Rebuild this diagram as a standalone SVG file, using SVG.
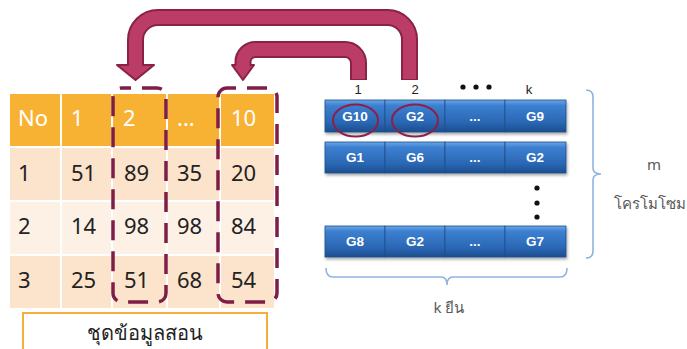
<svg xmlns="http://www.w3.org/2000/svg" width="687" height="349" viewBox="0 0 687 349">
<defs>
<linearGradient id="blue" x1="0" y1="0" x2="0" y2="1">
<stop offset="0" stop-color="#6AA6E6"/>
<stop offset="0.18" stop-color="#3C7FD0"/>
<stop offset="0.7" stop-color="#2A67B4"/>
<stop offset="1" stop-color="#1C4E8E"/>
</linearGradient>
<filter id="sh" x="-10%" y="-20%" width="120%" height="160%">
<feDropShadow dx="1" dy="2" stdDeviation="1.5" flood-color="#000" flood-opacity="0.35"/>
</filter>
</defs>
<style>
.hd{fill:#F7B234}
.ra{fill:#FCE3CB}
.rb{fill:#FDF1E6}
.sep{stroke:#FFFFFF;stroke-width:2}
.ht{font-family:"Noto Sans",sans-serif;font-size:22px;fill:#FFFFFF}
.bt{font-family:"Noto Sans",sans-serif;font-size:22px;fill:#222222}
.dash{fill:none;stroke:#7E1E46;stroke-width:3.5;stroke-dasharray:20 11}
.cell{fill:url(#blue);stroke:#1E4F8C;stroke-width:0.8}
.gt{font-family:"Liberation Sans",Arial,sans-serif;font-size:13.5px;font-weight:bold;fill:#FFFFFF;text-anchor:middle}
.lab{font-family:"Liberation Sans",Arial,sans-serif;font-size:13px;fill:#222222;text-anchor:middle}
.ring{fill:none;stroke:#8B2049;stroke-width:2}
.brace{fill:none;stroke:#8DB3E2;stroke-width:1.6}
.gray{font-family:"Noto Sans","DejaVu Sans",sans-serif;font-size:15px;fill:#595959;text-anchor:middle}
.ao{fill:none;stroke:#8A2248;stroke-width:17}
.ai{fill:none;stroke:#BA3C67;stroke-width:13}
.ah{fill:#BA3C67;stroke:#8A2248;stroke-width:2;stroke-linejoin:round}
</style>

<g id="table">
<rect class="hd" x="10" y="94" width="264" height="52"/>
<rect class="ra" x="10" y="148" width="264" height="52"/>
<rect class="rb" x="10" y="202" width="264" height="52"/>
<rect class="ra" x="10" y="256" width="264" height="52"/>
<line class="sep" x1="61" y1="94" x2="61" y2="308"/>
<line class="sep" x1="112" y1="94" x2="112" y2="308"/>
<line class="sep" x1="167" y1="94" x2="167" y2="308"/>
<line class="sep" x1="220" y1="94" x2="220" y2="308"/>
<text class="ht" x="18" y="126">No</text>
<text class="ht" x="71" y="126">1</text>
<text class="ht" x="123" y="126">2</text>
<text class="ht" x="177" y="126">...</text>
<text class="ht" x="231" y="126">10</text>
<text class="bt" x="18" y="181">1</text>
<text class="bt" x="71" y="181">51</text>
<text class="bt" x="124" y="181">89</text>
<text class="bt" x="177" y="181">35</text>
<text class="bt" x="231" y="181">20</text>
<text class="bt" x="18" y="234">2</text>
<text class="bt" x="71" y="234">14</text>
<text class="bt" x="124" y="234">98</text>
<text class="bt" x="177" y="234">98</text>
<text class="bt" x="231" y="234">84</text>
<text class="bt" x="18" y="288">3</text>
<text class="bt" x="71" y="288">25</text>
<text class="bt" x="124" y="288">51</text>
<text class="bt" x="177" y="288">68</text>
<text class="bt" x="231" y="288">54</text>
</g>

<g id="selection-col2">
<rect class="dash" x="113" y="88" width="53" height="214" rx="9" stroke-dashoffset="-20"/>
</g>
<g id="selection-col10">
<rect class="dash" x="218" y="88" width="59" height="214" rx="9" stroke-dashoffset="-20"/>
</g>

<g id="label-train">
<rect x="23" y="313" width="244" height="40" fill="#FFFFFF" stroke="#F5AF3B" stroke-width="2"/>
<text x="145" y="340" font-family="Noto Sans,'DejaVu Sans',sans-serif" font-size="20" fill="#222222" text-anchor="middle">ชุดข้อมูลสอน</text>
</g>

<g id="chromosome-1" filter="url(#sh)">
<rect class="cell" x="325" y="100" width="60" height="32"/>
<rect class="cell" x="385" y="100" width="60" height="32"/>
<rect class="cell" x="445" y="100" width="60" height="32"/>
<rect class="cell" x="505" y="100" width="61" height="32"/>
</g>
<g id="chromosome-1-text">
<text class="gt" x="355" y="121">G10</text>
<text class="gt" x="415" y="121">G2</text>
<text class="gt" x="475" y="121">...</text>
<text class="gt" x="535" y="121">G9</text>
<ellipse class="ring" cx="355.5" cy="120.5" rx="22.5" ry="16"/>
<ellipse class="ring" cx="415" cy="120.5" rx="23" ry="16"/>
</g>

<g id="chromosome-2" filter="url(#sh)">
<rect class="cell" x="325" y="142" width="60" height="31"/>
<rect class="cell" x="385" y="142" width="60" height="31"/>
<rect class="cell" x="445" y="142" width="60" height="31"/>
<rect class="cell" x="505" y="142" width="61" height="31"/>
</g>
<g id="chromosome-2-text">
<text class="gt" x="355" y="162">G1</text>
<text class="gt" x="415" y="162">G6</text>
<text class="gt" x="475" y="162">...</text>
<text class="gt" x="535" y="162">G2</text>
</g>

<g id="chromosome-m" filter="url(#sh)">
<rect class="cell" x="325" y="226" width="60" height="31"/>
<rect class="cell" x="385" y="226" width="60" height="31"/>
<rect class="cell" x="445" y="226" width="60" height="31"/>
<rect class="cell" x="505" y="226" width="61" height="31"/>
</g>
<g id="chromosome-m-text">
<text class="gt" x="355" y="246">G8</text>
<text class="gt" x="415" y="246">G2</text>
<text class="gt" x="475" y="246">...</text>
<text class="gt" x="535" y="246">G7</text>
</g>

<g id="gene-labels">
<text class="lab" x="358" y="94">1</text>
<text class="lab" x="415" y="94">2</text>
<circle cx="463" cy="87" r="2.6" fill="#111"/>
<circle cx="476" cy="87" r="2.6" fill="#111"/>
<circle cx="489" cy="87" r="2.6" fill="#111"/>
<text class="lab" x="529" y="94">k</text>
<circle cx="537" cy="188" r="2.6" fill="#111"/>
<circle cx="537" cy="203" r="2.6" fill="#111"/>
<circle cx="537" cy="217" r="2.6" fill="#111"/>
</g>

<g id="brace-m">
<path class="brace" d="M586,90 Q593,90 593,97 V168 Q593,174 601,174 Q593,174 593,180 V251 Q593,258 586,258"/>
<text class="gray" x="654" y="170">m</text>
<text class="gray" x="650" y="209" font-size="14.5">โครโมโซม</text>
</g>

<g id="brace-k">
<path class="brace" d="M326,268 Q326,277 333,277 H441 Q447,277 447,285 Q447,277 453,277 H560 Q567,277 567,268"/>
<text class="gray" x="449" y="313">k ยีน</text>
</g>

<g id="connectors">
<path class="ao" d="M409.5,80 V40 A22,22 0 0 0 387.5,17.5 H158 A22.5,22.5 0 0 0 135.5,40 V66"/>
<path class="ao" d="M358.5,80 V63 A13.5,13.5 0 0 0 345,49.5 H256 A12.5,12.5 0 0 0 243,62 V66"/>
<polygon class="ah" points="117,65 154,65 135.5,80"/>
<polygon class="ah" points="232,65 254,65 243,80"/>
<path class="ai" d="M409.5,79 V40 A22,22 0 0 0 387.5,17.5 H158 A22.5,22.5 0 0 0 135.5,40 V67"/>
<path class="ai" d="M358.5,79 V63 A13.5,13.5 0 0 0 345,49.5 H256 A12.5,12.5 0 0 0 243,62 V67"/>
</g>
</svg>
